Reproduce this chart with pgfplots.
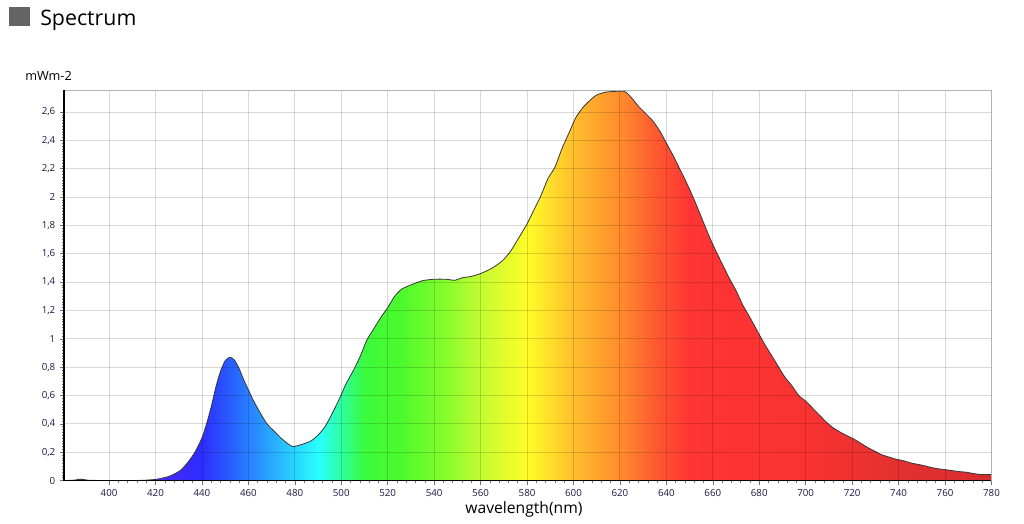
\documentclass[border=0pt]{standalone}
\usepackage{fontspec}
\setmainfont{Open Sans}
\usepackage{pgfplots}
\pgfplotsset{compat=1.18}

\definecolor{labcol}{RGB}{25,25,70}
\definecolor{outl}{RGB}{55,55,55}
\definecolor{sqgray}{RGB}{100,100,100}
\definecolor{s0}{RGB}{75,40,255}
\definecolor{s1}{RGB}{45,45,255}
\definecolor{s2}{RGB}{40,105,255}
\definecolor{s3}{RGB}{40,170,255}
\definecolor{s4}{RGB}{40,255,255}
\definecolor{s5}{RGB}{45,255,160}
\definecolor{s6}{RGB}{60,250,60}
\definecolor{s7}{RGB}{75,250,45}
\definecolor{s8}{RGB}{135,252,45}
\definecolor{s9}{RGB}{195,252,50}
\definecolor{s10}{RGB}{255,252,40}
\definecolor{s11}{RGB}{255,190,45}
\definecolor{s12}{RGB}{255,140,45}
\definecolor{s13}{RGB}{255,90,48}
\definecolor{s14}{RGB}{255,52,52}
\definecolor{s15}{RGB}{250,50,50}
\definecolor{s16}{RGB}{228,48,48}
\definecolor{s17}{RGB}{215,45,45}

% wavelength l mapped to 25bp + 50bp*(l-380.6)/399.4
\pgfdeclarehorizontalshading{spectrum}{100bp}{%
color(0bp)=(s0); color(25bp)=(s0); color(29.93bp)=(s0);
color(32.44bp)=(s1); color(34.31bp)=(s2); color(36.19bp)=(s3);
color(38.70bp)=(s4); color(39.95bp)=(s5); color(41.20bp)=(s6);
color(43.08bp)=(s7); color(45.58bp)=(s8); color(47.46bp)=(s9);
color(49.96bp)=(s10); color(52.47bp)=(s11); color(54.97bp)=(s12);
color(56.85bp)=(s13); color(58.73bp)=(s14); color(64.99bp)=(s15);
color(69.99bp)=(s16); color(75bp)=(s17); color(100bp)=(s17)}

\pgfplotstableread{
x y
380.6 0.0
385 0.003
388 0.01
391 0.002
400 0.0
410 0.0
415 0.002
420 0.008
425 0.025
428 0.045
431 0.075
434 0.13
437 0.20
440 0.30
442 0.40
444 0.52
446 0.66
448 0.77
450 0.845
452 0.87
454 0.85
456 0.79
458 0.71
460 0.64
462 0.57
465 0.48
468 0.40
471 0.35
474 0.30
477 0.26
479 0.24
481 0.245
484 0.26
487 0.28
490 0.32
493 0.38
496 0.47
499 0.57
502 0.68
505 0.77
508 0.87
511 0.99
514 1.07
517 1.15
520 1.22
523 1.30
526 1.35
530 1.38
535 1.41
540 1.42
545 1.42
549 1.413
552 1.43
556 1.44
560 1.46
564 1.49
567 1.52
570 1.56
573 1.62
576 1.70
580 1.81
583 1.91
586 2.01
589 2.13
592 2.21
595 2.34
598 2.45
601 2.56
604 2.63
607 2.68
610 2.72
614 2.74
618 2.745
622 2.745
625 2.70
628 2.64
631 2.59
634 2.54
637 2.47
640 2.38
643 2.29
646 2.19
649 2.09
652 1.98
655 1.86
658 1.74
661 1.63
664 1.53
667 1.43
670 1.34
673 1.235
676 1.15
679 1.06
682 0.97
685 0.89
688 0.81
691 0.73
694 0.67
697 0.60
700 0.56
703 0.51
706 0.46
709 0.41
712 0.37
715 0.34
718 0.315
721 0.29
724 0.26
727 0.23
730 0.205
733 0.18
736 0.165
739 0.15
742 0.14
745 0.125
748 0.115
751 0.105
754 0.092
757 0.083
760 0.077
763 0.07
766 0.063
769 0.059
772 0.05
775 0.043
778 0.042
780 0.042
}\spec

\begin{document}
\begin{tikzpicture}
\useasboundingbox (-48pt,-32.6pt) rectangle (720pt,360.4pt);
\begin{axis}[
  name=ax, at={(0,0)}, anchor=south west,
  scale only axis, width=695.6pt, height=292.9pt,
  xmin=380.6, xmax=780, ymin=0, ymax=2.755,
  xtick={400,420,...,780},
  ytick={0,0.2,0.4,0.6,0.8,1,1.2,1.4,1.6,1.8,2,2.2,2.4,2.6},
  minor x tick num=4, minor y tick num=9,
  tick pos=left, tick align=outside,
  major tick length=3pt, minor tick length=1.5pt,
  tick style={black!55, line width=0.4pt},
  grid=major,
  major grid style={black, opacity=0.15, line width=0.65pt},
  axis on top,
  axis line style={black!30, line width=0.5pt},
  ticklabel style={font=\fontsize{7.3}{8}\selectfont, text=labcol},
  /pgf/number format/use comma,
  /pgf/number format/fixed,
  /pgf/number format/assume math mode=true,
]
\addplot[draw=outl, line width=0.6pt, smooth, tension=0.4, shade, shading=spectrum, shading angle=0] table[x=x,y=y] {\spec} \closedcycle;
\end{axis}
\draw[black, line width=1.1pt] (ax.north west) -- (ax.south west) -- (ax.south east);
\fill[sqgray] (-41pt,341.1pt) rectangle (-25.5pt,354.9pt);
\node[anchor=base west, inner sep=0pt, font=\fontsize{16}{18}\selectfont] at (-18pt,341.1pt) {Spectrum};
\node[anchor=base west, inner sep=0pt, font=\fontsize{9.5}{11}\selectfont] at (-29.25pt,299.85pt) {mWm-2};
\node[anchor=base, inner sep=0pt, font=\fontsize{11.75}{13}\selectfont] at (345pt,-25.1pt) {wavelength(nm)};
\end{tikzpicture}
\end{document}
